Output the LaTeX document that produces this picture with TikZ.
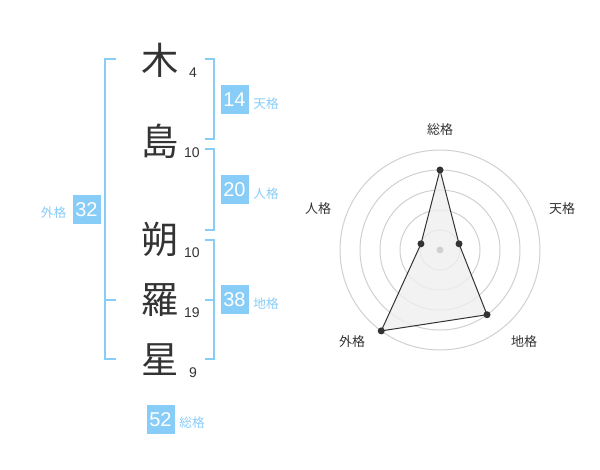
\documentclass[tikz,border=0pt]{standalone}
\usepackage{fontspec}
\usepackage{xcolor}
\usepackage{tikz}
\usetikzlibrary{calc}
\setmainfont{Liberation Sans}
\newfontfamily\jpfont{Noto Sans CJK JP}
\definecolor{kakublue}{HTML}{88CCF8}
\definecolor{inkgray}{HTML}{333333}
\definecolor{ringgray}{HTML}{D0D0D0}
\definecolor{areagray}{HTML}{EFEFEF}

\begin{document}
\begin{tikzpicture}[x=0.75pt, y=-0.75pt,
  kanji/.style={text=inkgray, font=\jpfont\fontsize{28}{28}\selectfont, inner sep=0pt},
  strokes/.style={text=inkgray, font=\fontsize{10.5}{10.5}\selectfont, inner sep=0pt},
  kakubox/.style={fill=kakublue, text=white, minimum width=21pt, minimum height=21.75pt, inner sep=0pt, font=\fontsize{15}{15}\selectfont},
  kakuname/.style={text=kakublue, font=\jpfont\fontsize{9.5}{9.5}\selectfont, inner sep=0pt},
  brace/.style={draw=kakublue, line width=1.5pt},
  axisname/.style={text=inkgray, font=\jpfont\fontsize{9.75}{9.75}\selectfont, inner sep=0pt}]
\useasboundingbox (0,0) rectangle (600,470);
% name, one character per row
\node [kanji] (k1) at (160, 60) {木};
\node [kanji] (k2) at (160, 141) {島};
\node [kanji] (k3) at (160, 239) {朔};
\node [kanji] (k4) at (160, 300) {羅};
\node [kanji] (k5) at (160, 360) {星};
\node [strokes] (s1) at (193, 73) {4};
\node [strokes] (s2) at (192, 153) {10};
\node [strokes] (s3) at (192, 253) {10};
\node [strokes] (s4) at (192, 313) {19};
\node [strokes] (s5) at (193, 373) {9};
% brackets
\draw [brace] (116,59) -- (105,59) -- (105,359) -- (116,359);
\draw [brace] (105,300) -- (116,300);
\draw [brace] (205,59) -- (214,59) -- (214,139) -- (205,139);
\draw [brace] (205,149) -- (214,149) -- (214,230) -- (205,230);
\draw [brace] (205,240) -- (214,240) -- (214,359) -- (205,359);
\draw [brace] (205,300) -- (214,300);
% totals
\node [kakubox] (ten) at (234.5, 100) {14};
\node [kakuname] (tenname) at (266, 104) {天格};
\node [kakubox] (jin) at (234.5, 190) {20};
\node [kakuname] (jinname) at (266, 194) {人格};
\node [kakubox] (chi) at (234.5, 300) {38};
\node [kakuname] (chiname) at (266, 304) {地格};
\node [kakubox] (gai) at (86.5, 210) {32};
\node [kakuname] (gainame) at (53.5, 213) {外格};
\node [kakubox] (sou) at (160.5, 419.5) {52};
\node [kakuname] (souname) at (192, 423) {総格};
% radar
\coordinate (c) at (440,250);
\foreach \r in {20,40,...,100}
  \draw [ringgray, line width=0.75pt] (c) circle [radius=\r];
\coordinate (psou) at ([shift={(-90:80)}]c);
\coordinate (pten) at ([shift={(-18:20)}]c);
\coordinate (pchi) at ([shift={(54:80)}]c);
\coordinate (pgai) at ([shift={(126:100)}]c);
\coordinate (pjin) at ([shift={(-162:20)}]c);
\draw [inkgray, fill=areagray, fill opacity=0.8, line width=0.75pt] (psou) -- (pten) -- (pchi) -- (pgai) -- (pjin) -- cycle;
\fill [ringgray] (c) circle [radius=3.5];
\foreach \p in {psou,pten,pchi,pgai,pjin}
  \fill [inkgray] (\p) circle [radius=3.5];
\node [axisname] (asou) at (440, 130) {総格};
\node [axisname] (aten) at (562, 209) {天格};
\node [axisname] (ajin) at (318, 209) {人格};
\node [axisname] (agai) at (352, 342) {外格};
\node [axisname] (achi) at (524, 342) {地格};
\end{tikzpicture}
\end{document}
